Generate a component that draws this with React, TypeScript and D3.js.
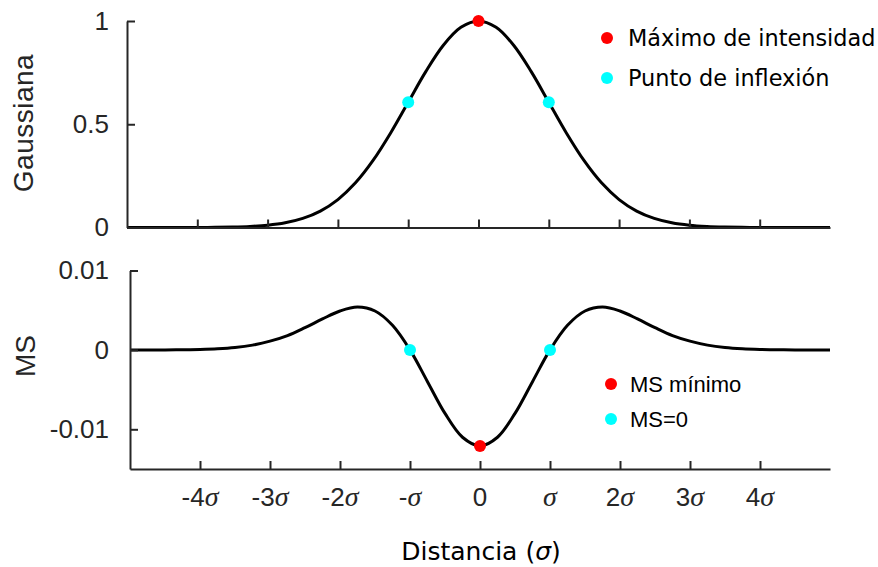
import React, { useEffect, useRef } from "react";
import * as d3 from "d3";

// distance in units of sigma
const distancia = [
  -5, -4.75, -4.5, -4.25, -4, -3.75, -3.5, -3.25, -3, -2.75, -2.5, -2.25, -2, -1.75, -1.5, -1.25, -1, -0.75, -0.5, -0.25,
  0, 0.25, 0.5, 0.75, 1, 1.25, 1.5, 1.75, 2, 2.25, 2.5, 2.75, 3, 3.25, 3.5, 3.75, 4, 4.25, 4.5, 4.75, 5,
];

const gaussiana = [
  0, 0, 0, 0.0001, 0.0003, 0.0009, 0.0022, 0.0051, 0.0111, 0.0228, 0.0439, 0.0796, 0.1353, 0.2163, 0.3247, 0.4578, 0.6065,
  0.7548, 0.8825, 0.9692, 1, 0.9692, 0.8825, 0.7548, 0.6065, 0.4578, 0.3247, 0.2163, 0.1353, 0.0796, 0.0439, 0.0228,
  0.0111, 0.0051, 0.0022, 0.0009, 0.0003, 0.0001, 0, 0, 0,
];

const ms = [
  0, 0, 0, 0.00002, 0.00006, 0.00014, 0.0003, 0.0006, 0.0011, 0.0018, 0.0028, 0.0039, 0.0049, 0.0054, 0.0049, 0.0031, 0,
  -0.004, -0.008, -0.011, -0.0121, -0.011, -0.008, -0.004, 0, 0.0031, 0.0049, 0.0054, 0.0049, 0.0039, 0.0028, 0.0018,
  0.0011, 0.0006, 0.0003, 0.00014, 0.00006, 0.00002, 0, 0, 0,
];

const maximo = [{ x: 0, y: 1 }];
const inflexion = [{ x: -1, y: 0.6065 }, { x: 1, y: 0.6065 }];
const msMinimo = [{ x: 0, y: -0.0121 }];
const msCero = [{ x: -1, y: 0 }, { x: 1, y: 0 }];

const xTicks = [-4, -3, -2, -1, 0, 1, 2, 3, 4];
const xTickLabels = ["-4", "-3", "-2", "-", "0", "", "2", "3", "4"];
const xTickSigma = [true, true, true, true, false, true, true, true, true];
const gTicks = [0, 0.5, 1];
const gTickLabels = ["0", "0.5", "1"];
const msTicks = [-0.01, 0, 0.01];
const msTickLabels = ["-0.01", "0", "0.01"];

const AXIS = "#262626";
const SANS = "'Liberation Sans', Arial, sans-serif";
const DEJAVU = "'DejaVu Sans', sans-serif";

export default function App() {
  const ref = useRef<SVGSVGElement>(null);

  useEffect(() => {
    const svg = d3.select(ref.current);
    svg.selectAll("*").remove();

    const xTop = d3.scaleLinear().domain([-5, 5]).range([127, 830]);
    const yTop = d3.scaleLinear().domain([0, 1]).range([227.5, 21]);
    const xBot = d3.scaleLinear().domain([-5, 5]).range([130, 830]);
    const yBot = d3.scaleLinear().domain([-0.015, 0.01]).range([469, 270.5]);

    const styleAxis = (g: any) => {
      g.select(".domain").attr("stroke", AXIS).attr("stroke-width", 2);
      g.selectAll(".tick line").attr("stroke", AXIS).attr("stroke-width", 2);
      g.selectAll(".tick text").attr("fill", AXIS).attr("font-family", SANS).attr("font-size", 26);
    };

    // ---- top panel
    svg.append("path")
      .datum(distancia.map((d, i) => [d, gaussiana[i]]))
      .attr("fill", "none")
      .attr("stroke", "#000")
      .attr("stroke-width", 3)
      .attr("d", d3.line().x((d: any) => xTop(d[0])).y((d: any) => yTop(d[1])).curve(d3.curveCatmullRom));

    svg.append("g")
      .attr("transform", `translate(0,${yTop(0)})`)
      .call(d3.axisBottom(xTop).tickValues(xTicks).tickSizeInner(-8).tickSizeOuter(0).tickFormat(() => ""))
      .call(styleAxis);

    svg.append("g")
      .attr("transform", `translate(${xTop(-5)},0)`)
      .call(d3.axisLeft(yTop).tickValues(gTicks).tickSizeInner(-8).tickSizeOuter(0).tickPadding(18)
        .tickFormat((d, i) => gTickLabels[i]))
      .call(styleAxis);

    svg.selectAll(".maximo").data(maximo).enter().append("circle")
      .attr("cx", d => xTop(d.x)).attr("cy", d => yTop(d.y)).attr("r", 6).attr("fill", "#ff0000");
    svg.selectAll(".inflexion").data(inflexion).enter().append("circle")
      .attr("cx", d => xTop(d.x)).attr("cy", d => yTop(d.y)).attr("r", 6).attr("fill", "#00ffff");

    svg.append("text")
      .attr("transform", "translate(33,123) rotate(-90)")
      .attr("text-anchor", "middle")
      .attr("font-family", SANS).attr("font-size", 28).attr("fill", AXIS)
      .attr("letter-spacing", 0.5)
      .text("Gaussiana");

    // legend top
    const legTop = [
      { label: "Máximo de intensidad", color: "#ff0000", y: 38 },
      { label: "Punto de inflexión", color: "#00ffff", y: 78 },
    ];
    legTop.forEach(l => {
      svg.append("circle").attr("cx", 607).attr("cy", l.y).attr("r", 6).attr("fill", l.color);
      svg.append("text").attr("x", 628).attr("y", l.y + 8)
        .attr("font-family", DEJAVU).attr("font-size", 22.4).attr("fill", "#000").text(l.label);
    });

    // ---- bottom panel
    svg.append("path")
      .datum(distancia.map((d, i) => [d, ms[i]]))
      .attr("fill", "none")
      .attr("stroke", "#000")
      .attr("stroke-width", 3)
      .attr("d", d3.line().x((d: any) => xBot(d[0])).y((d: any) => yBot(d[1])).curve(d3.curveCatmullRom));

    const xAx = svg.append("g")
      .attr("transform", `translate(0,${yBot(-0.015)})`)
      .call(d3.axisBottom(xBot).tickValues(xTicks).tickSizeInner(-8).tickSizeOuter(0).tickFormat(() => ""))
      .call(styleAxis);

    // tick labels with italic sigma
    xTicks.forEach((t, i) => {
      const txt = xAx.append("text")
        .attr("x", xBot(t)).attr("y", 37)
        .attr("text-anchor", "middle")
        .attr("font-family", SANS).attr("font-size", 26).attr("fill", AXIS);
      txt.append("tspan").text(xTickLabels[i]);
      if (xTickSigma[i]) {
        txt.append("tspan").attr("font-family", "'Liberation Serif', serif").attr("font-style", "italic")
          .attr("font-size", 28).text("σ");
      }
    });

    svg.append("g")
      .attr("transform", `translate(${xBot(-5)},0)`)
      .call(d3.axisLeft(yBot).tickValues(msTicks).tickSizeInner(-8).tickSizeOuter(0).tickPadding(21)
        .tickFormat((d, i) => msTickLabels[i]))
      .call(styleAxis);

    svg.selectAll(".msmin").data(msMinimo).enter().append("circle")
      .attr("cx", d => xBot(d.x)).attr("cy", d => yBot(d.y)).attr("r", 6).attr("fill", "#ff0000");
    svg.selectAll(".mscero").data(msCero).enter().append("circle")
      .attr("cx", d => xBot(d.x)).attr("cy", d => yBot(d.y)).attr("r", 6).attr("fill", "#00ffff");

    svg.append("text")
      .attr("transform", "translate(35,356) rotate(-90)")
      .attr("text-anchor", "middle")
      .attr("font-family", SANS).attr("font-size", 28).attr("fill", AXIS)
      .text("MS");

    const legBot = [
      { label: "MS mínimo", color: "#ff0000", y: 384 },
      { label: "MS=0", color: "#00ffff", y: 419 },
    ];
    legBot.forEach(l => {
      svg.append("circle").attr("cx", 611).attr("cy", l.y).attr("r", 6).attr("fill", l.color);
      svg.append("text").attr("x", 630).attr("y", l.y + 8)
        .attr("font-family", SANS).attr("font-size", 22).attr("fill", "#000").text(l.label);
    });

    // x label
    const xl = svg.append("text")
      .attr("x", 481).attr("y", 560)
      .attr("text-anchor", "middle")
      .attr("font-family", DEJAVU).attr("font-size", 25).attr("fill", "#000");
    xl.append("tspan").text("Distancia (");
    xl.append("tspan").attr("font-style", "italic").text("σ");
    xl.append("tspan").text(")");
  }, []);

  return (
    <svg
      ref={ref}
      width={878}
      height={567}
      style={{ position: "absolute", left: 0, top: 0, background: "#fff" }}
    />
  );
}
